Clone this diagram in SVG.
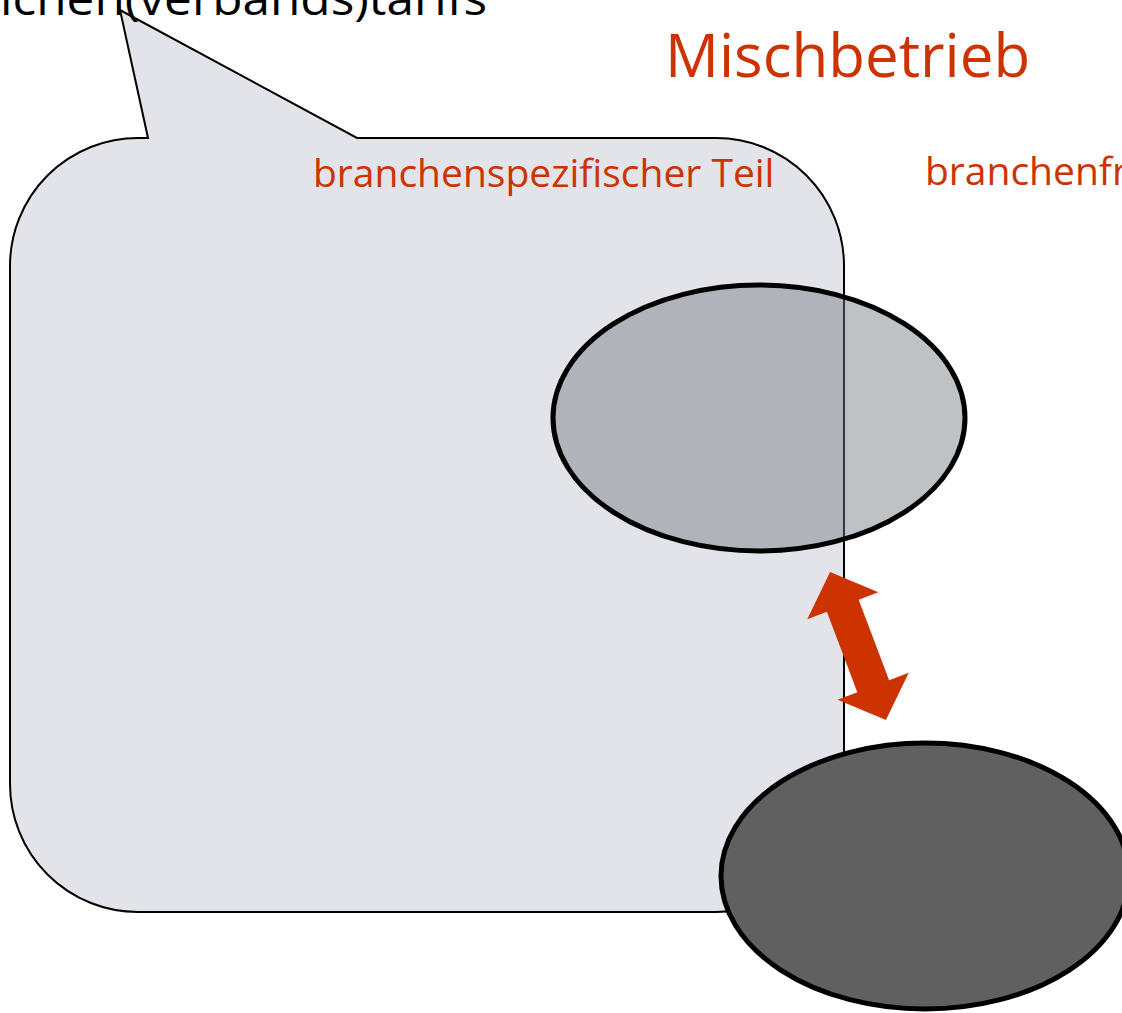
<svg xmlns="http://www.w3.org/2000/svg" width="1122" height="1013" viewBox="0 0 1122 1013">
<style>
.lbl{font-family:"Open Sans","Noto Sans",sans-serif;fill:#cc3300}
.blk{font-family:"Open Sans","Noto Sans",sans-serif;fill:#000}
.ell{stroke:#000;stroke-width:5}
</style>
<rect width="1122" height="1013" fill="#fff"/>
<g id="callout">
<path d="M148,138 L120,10 L357,138 L716,138 A128,128 0 0 1 844,266 L844,784 A128,128 0 0 1 716,912 L138,912 A128,128 0 0 1 10,784 L10,266 A128,128 0 0 1 138,138 Z" fill="#e3e4e9" stroke="#000" stroke-width="2"/>
</g>
<g id="calloutText"><text class="blk" x="487" y="15" font-size="46" text-anchor="end" textLength="487" lengthAdjust="spacingAndGlyphs">ichen(verbands)tarifs</text></g>
<g id="title"><text class="lbl" x="665" y="77" font-size="60">Mischbetrieb</text></g>
<g id="label1"><text class="lbl" x="313" y="187" font-size="39">branchenspezifischer Teil</text></g>
<g id="label2"><text class="lbl" x="925" y="185" font-size="39">branchenfr</text></g>
<g id="ellipseTop"><ellipse class="ell" cx="759" cy="418" rx="206" ry="133" fill="#747a80" fill-opacity="0.46"/></g>
<g id="ellipseBottom"><ellipse class="ell" cx="925" cy="876" rx="204" ry="133" fill="#606060"/></g>
<g id="connectors">
<polygon transform="translate(858,646) rotate(-20.7)" fill="#cc3300" points="0,-79 38,-43 17,-43 17,43 38,43 0,79 -38,43 -17,43 -17,-43 -38,-43"/>
</g>
</svg>
